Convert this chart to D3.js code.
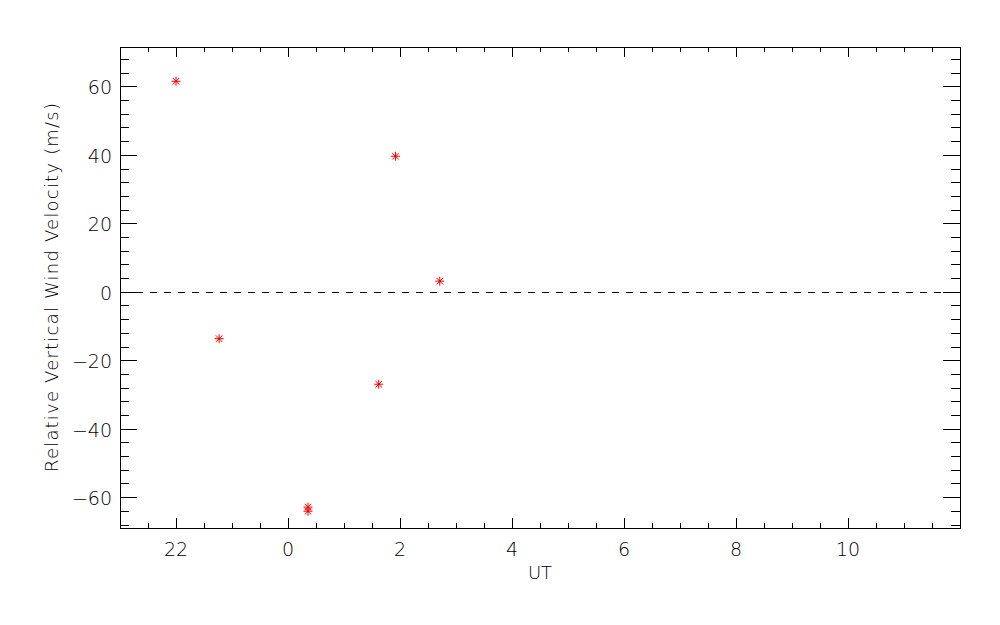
<!DOCTYPE html>
<html>
<head>
<meta charset="utf-8">
<script src="https://cdn.jsdelivr.net/npm/d3@7"></script>
<style>
  html, body { margin: 0; padding: 0; background: #fff; }
  svg { display: block; }
  text { font-family: "DejaVu Sans", sans-serif; font-weight: 200; fill: #000; }
</style>
</head>
<body>
<svg id="chart" width="1000" height="625"></svg>
<script>
// ---- data ----
const utHours = [-2.0, -1.23, 0.357, 0.357, 1.62, 1.92, 2.71];
const windVel = [61.5, -13.7, -62.9, -64.1, -27.0, 39.6, 3.1];
const xMajorTicks = [-2, 0, 2, 4, 6, 8, 10];
const xTickLabels = ["22", "0", "2", "4", "6", "8", "10"];
const yMajorTicks = [-60, -40, -20, 0, 20, 40, 60];
const yTickLabels = ["\u221260", "\u221240", "\u221220", "0", "20", "40", "60"];
const xDomain = [-3, 12];
const yDomain = [-69, 71.5];
const xTitle = "UT";
const yTitle = "Relative Vertical Wind Velocity (m/s)";

// ---- layout ----
const L = 120, R = 960, T = 47, B = 528;
const svg = d3.select("#chart");
const x = d3.scaleLinear().domain(xDomain).range([L, R]);
const y = d3.scaleLinear().domain(yDomain).range([B, T]);

const xMinor = d3.range(-3, 12.001, 0.5).filter(v => v > xDomain[0] && v < xDomain[1]);
const yMinor = d3.range(-68, 68.001, 4);

const g = svg.append("g");
const px = v => Math.round(v) + 0.5;

// ticks
const xMajLen = 10, xMinLen = 5, yMajLen = 17, yMinLen = 9;
xMinor.forEach(v => {
  const isMaj = xMajorTicks.includes(v);
  const len = isMaj ? xMajLen : xMinLen;
  const X = px(x(v));
  g.append("line").attr("x1", X).attr("x2", X).attr("y1", B).attr("y2", B - len)
    .attr("stroke", "#000").attr("stroke-width", 1);
  g.append("line").attr("x1", X).attr("x2", X).attr("y1", T).attr("y2", T + len)
    .attr("stroke", "#000").attr("stroke-width", 1);
});
yMinor.forEach(v => {
  const isMaj = yMajorTicks.includes(v);
  const len = isMaj ? yMajLen : yMinLen;
  const Y = px(y(v));
  g.append("line").attr("x1", L).attr("x2", L + len).attr("y1", Y).attr("y2", Y)
    .attr("stroke", "#000").attr("stroke-width", 1);
  g.append("line").attr("x1", R).attr("x2", R - len).attr("y1", Y).attr("y2", Y)
    .attr("stroke", "#000").attr("stroke-width", 1);
});

// frame
g.append("rect").attr("x", L + 0.5).attr("y", T + 0.5).attr("width", R - L).attr("height", B - T)
  .attr("fill", "none").attr("stroke", "#000").attr("stroke-width", 1);

// tick labels
xMajorTicks.forEach((v, i) => {
  g.append("text").attr("x", x(v)).attr("y", 556).attr("text-anchor", "middle")
    .attr("font-size", 19).text(xTickLabels[i]);
});
yMajorTicks.forEach((v, i) => {
  g.append("text").attr("x", 112).attr("y", y(v) + 8).attr("text-anchor", "end")
    .attr("font-size", 19).text(yTickLabels[i]);
});

// titles
g.append("text").attr("x", (L + R) / 2).attr("y", 579).attr("text-anchor", "middle")
  .attr("font-size", 18).text(xTitle);
g.append("text").attr("transform", `translate(58,${(T + B) / 2}) rotate(-90)`)
  .attr("text-anchor", "middle").attr("font-size", 18)
  .attr("textLength", 369).attr("lengthAdjust", "spacing").text(yTitle);

// zero dashed line
g.append("line").attr("x1", L + 2).attr("x2", R).attr("y1", px(y(0))).attr("y2", px(y(0)))
  .attr("stroke", "#000").attr("stroke-width", 1).attr("stroke-dasharray", "7,7");

// asterisk markers
const s = 4.5, d = 3.3;
const pts = utHours.map((h, i) => ({ h, v: windVel[i] }));
const m = g.selectAll("g.pt").data(pts).enter().append("g").attr("class", "pt")
  .attr("transform", p => `translate(${x(p.h)},${y(p.v)})`);
const segs = [[-s, 0, s, 0], [0, -s, 0, s], [-d, -d, d, d], [-d, d, d, -d]];
segs.forEach(sg => {
  m.append("line").attr("x1", sg[0]).attr("y1", sg[1]).attr("x2", sg[2]).attr("y2", sg[3])
    .attr("stroke", "#ff0000").attr("stroke-width", 1);
});
m.append("circle").attr("r", 1.1).attr("fill", "#ff0000");
</script>
</body>
</html>
